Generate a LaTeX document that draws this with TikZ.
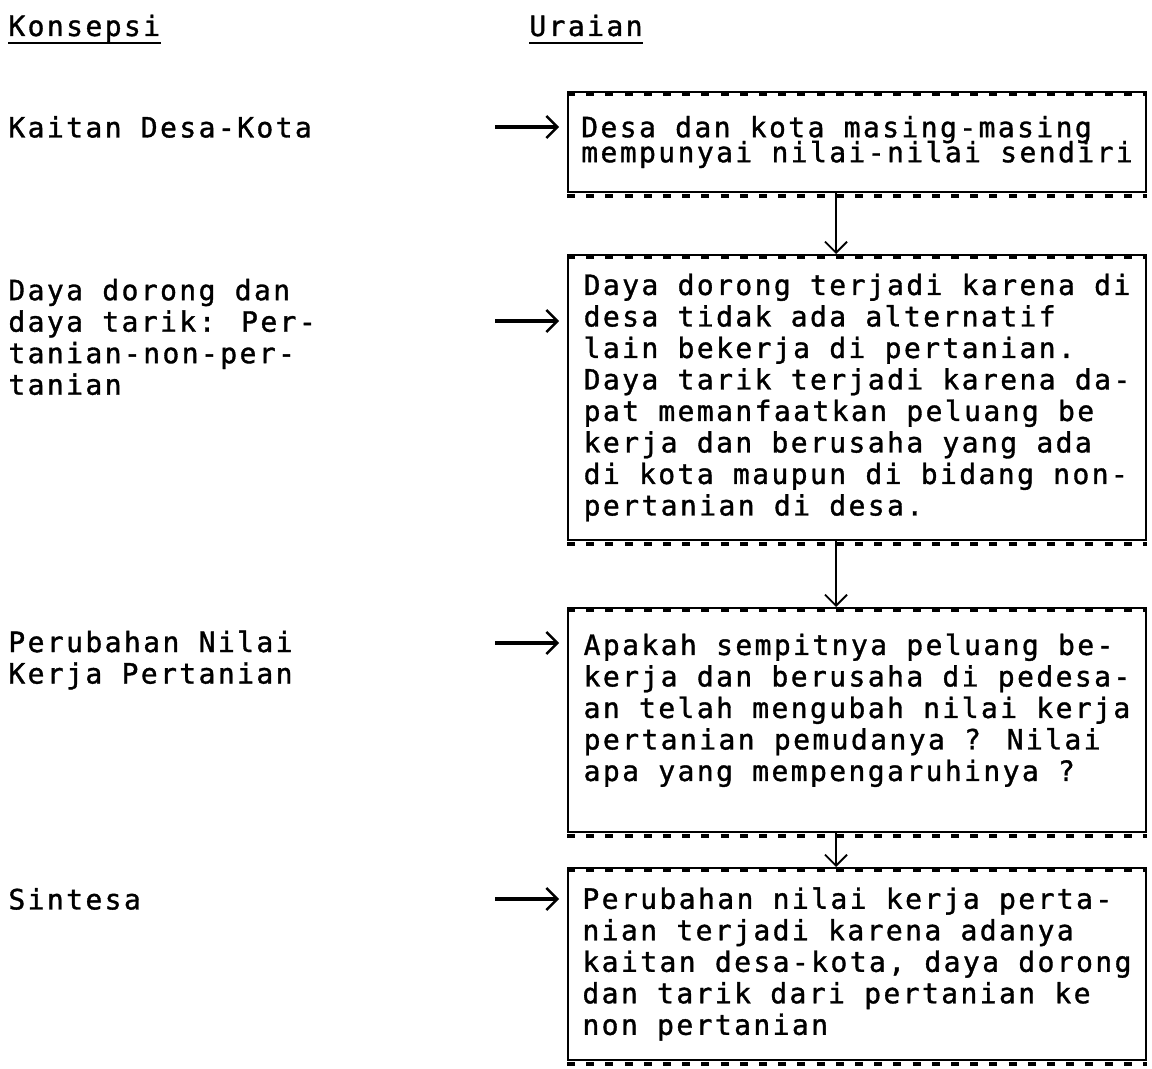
\documentclass[tikz,border=0pt]{standalone}
\usepackage{fontspec}
\usetikzlibrary{arrows.meta}
\newfontfamily\typer{DejaVu Sans Mono}[LetterSpace=8.6, FakeBold=1.2]
\newcommand{\tw}{\typer\fontsize{14}{15.75}\selectfont}

\begin{document}
\begin{tikzpicture}[x=0.5pt, y=-0.5pt, every node/.style={font=\tw, inner sep=0pt},
    uraian/.style={draw, line width=1pt, minimum width=289pt, align=left},
    konsep/.style={anchor=west, align=left},
    pointer/.style={line width=1.6pt, -{Straight Barb[length=5.5pt, width=11pt, line width=1.2pt]}, shorten >=4pt},
    flow/.style={line width=0.9pt, -{Straight Barb[length=5.5pt, width=11pt]}},
    ticks/.style={line width=2pt, dash pattern=on 4pt off 5.6pt},
    rule/.style={line width=1.3pt}]
    \useasboundingbox (0,0) rectangle (1152,1069);
    % headers
    \node[anchor=base west] (hk) at (8,36) {Konsepsi};
    \node[anchor=base west] (hu) at (529,36) {Uraian};
    \draw[rule] ([yshift=-3.5pt]hk.base west) -- ([yshift=-3.5pt]hk.base east);
    \draw[rule] ([yshift=-3.5pt]hu.base west) -- ([yshift=-3.5pt]hu.base east);
    % konsepsi
    \node[konsep] (k1) at (8,127) {Kaitan Desa-Kota};
    \node[konsep] (k2) at (8,337) {Daya dorong dan\\daya tarik: Per-\\tanian-non-per-\\tanian};
    \node[konsep] (k3) at (8,660) {Perubahan Nilai\\Kerja Pertanian};
    \node[konsep] (k4) at (8,899) {Sintesa};
    % uraian
    \node[uraian, minimum height=50pt, font={\tw\fontsize{14}{12.5}\selectfont\lineskiplimit=-10pt}] (u1) at (857,142)
        {Desa dan kota masing-masing\\mempunyai nilai-nilai sendiri};
    \node[uraian, minimum height=142.5pt] (u2) at (857,397.5)
        {Daya dorong terjadi karena di\\desa tidak ada alternatif\\lain bekerja di pertanian.\\Daya tarik terjadi karena da-\\pat memanfaatkan peluang be\\kerja dan berusaha yang ada\\di kota maupun di bidang non-\\pertanian di desa.};
    \node[uraian, minimum height=112pt] (u3) at (857,720)
        {Apakah sempitnya peluang be-\\kerja dan berusaha di pedesa-\\an telah mengubah nilai kerja\\pertanian pemudanya ? Nilai\\apa yang mempengaruhinya ?\\[-3pt]\mbox{}};
    \node[uraian, minimum height=96pt] (u4) at (857,964)
        {Perubahan nilai kerja perta-\\nian terjadi karena adanya\\kaitan desa-kota, daya dorong\\dan tarik dari pertanian ke\\non pertanian};
    \foreach \b in {u1,u2,u3,u4} {
        \draw[ticks] ([yshift=-1.4pt]\b.north west) -- ([yshift=-1.4pt]\b.north east);
        \draw[ticks] ([yshift=-1.4pt]\b.south west) -- ([yshift=-1.4pt]\b.south east);
    }
    % arrows
    \coordinate (p1) at (495,127);
    \coordinate (p2) at (495,321);
    \coordinate (p3) at (495,643);
    \coordinate (p4) at (495,899);
    \draw[pointer] (p1) -- (p1 -| u1.west);
    \draw[pointer] (p2) -- (p2 -| u2.west);
    \draw[pointer] (p3) -- (p3 -| u3.west);
    \draw[pointer] (p4) -- (p4 -| u4.west);
    \draw[flow] ([xshift=-10.5pt]u1.south) -- ([xshift=-10.5pt]u2.north);
    \draw[flow] ([xshift=-10.5pt]u2.south) -- ([xshift=-10.5pt]u3.north);
    \draw[flow] ([xshift=-10.5pt]u3.south) -- ([xshift=-10.5pt]u4.north);
\end{tikzpicture}
\end{document}
